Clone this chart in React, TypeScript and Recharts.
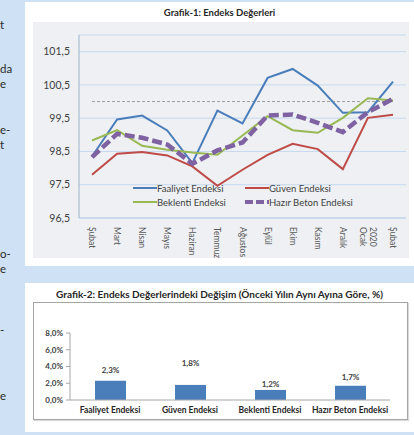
import { LineChart, Line, XAxis, YAxis, CartesianGrid, Legend, BarChart, Bar, LabelList } from 'recharts';

const FONT = 'Lato, "Noto Sans", sans-serif';

// Grafik-1 data
const months = ['Şubat', 'Mart', 'Nisan', 'Mayıs', 'Haziran', 'Temmuz', 'Ağustos', 'Eylül', 'Ekim', 'Kasım', 'Aralık', '2020 Ocak', 'Şubat'];
const faaliyet = [98.35, 99.46, 99.58, 99.13, 98.15, 99.73, 99.34, 100.71, 100.98, 100.48, 99.66, 99.68, 100.6];
const guven = [97.8, 98.43, 98.48, 98.38, 98.05, 97.47, 97.95, 98.4, 98.73, 98.57, 97.97, 99.51, 99.6];
const beklenti = [98.83, 99.14, 98.67, 98.55, 98.47, 98.4, 98.98, 99.56, 99.14, 99.06, 99.51, 100.1, 100.03];
const hazirBeton = [98.33, 99.03, 98.91, 98.71, 98.13, 98.53, 98.77, 99.58, 99.61, 99.36, 99.08, 99.68, 100.08];
const esik = [100, 100, 100, 100, 100, 100, 100, 100, 100, 100, 100, 100, 100];
const lineTicks = [96.5, 97.5, 98.5, 99.5, 100.5, 101.5];

// Grafik-2 data
const barCategories = ['Faaliyet Endeksi', 'Güven Endeksi', 'Beklenti Endeksi', 'Hazır Beton Endeksi'];
const barValues = [2.3, 1.8, 1.2, 1.7];
const barTicks = [0, 2, 4, 6, 8];

// left column text ends (cut off by the crop)
const sideText = [
  { t: 't', y: 25 },
  { t: 'da', y: 69 },
  { t: 'e', y: 84 },
  { t: 'e-', y: 130 },
  { t: 't', y: 145 },
  { t: 'o-', y: 254 },
  { t: 'e', y: 269 },
  { t: '-', y: 330 },
  { t: 'e', y: 396 },
];

const lineData = months.map((m, i) => ({
  month: m,
  esik: esik[i],
  faaliyet: faaliyet[i],
  guven: guven[i],
  beklenti: beklenti[i],
  hazirBeton: hazirBeton[i],
}));

const barData = barCategories.map((c, i) => ({ name: c, value: barValues[i] }));

const seriesStyle: Record<string, { label: string; color: string; width: number; dash?: string }> = {
  faaliyet: { label: 'Faaliyet Endeksi', color: '#4a7ebb', width: 2 },
  guven: { label: 'Güven Endeksi', color: '#be4b48', width: 2 },
  beklenti: { label: 'Beklenti Endeksi', color: '#98b954', width: 2 },
  hazirBeton: { label: 'Hazır Beton Endeksi', color: '#7e62a1', width: 4.5, dash: '10 4' },
};
const legendOrder = ['faaliyet', 'guven', 'beklenti', 'hazirBeton'];

const fmt1 = (v: number) => v.toFixed(1).replace('.', ',');
const fmtPct = (v: number) => fmt1(v) + '%';

const MonthTick = (props: any) => {
  const { x, y, payload } = props;
  const lines = String(payload.value).split(' ');
  const lh = 10;
  const start = -((lines.length - 1) * lh) / 2;
  return (
    <g transform={`translate(${x},${y + 7})`}>
      <text transform="rotate(90)" textAnchor="start" fontSize={8.5} fill="#595959" fontFamily={FONT}>
        {lines.map((l, i) => (
          <tspan key={i} x={0} y={start + i * lh} dy="0.35em">
            {l}
          </tspan>
        ))}
      </text>
    </g>
  );
};

const LegendBox = () => (
  <div style={{ display: 'grid', gridTemplateColumns: '112px 140px', rowGap: 2, fontFamily: FONT, fontSize: 9.5, color: '#404040' }}>
    {legendOrder.map((k) => {
      const s = seriesStyle[k];
      return (
        <div key={k} style={{ display: 'flex', alignItems: 'center', height: 12 }}>
          <svg width={24} height={8}>
            <line x1={0} y1={4} x2={24} y2={4} stroke={s.color} strokeWidth={s.width > 3 ? 4 : 2} strokeDasharray={s.dash ? '8 3' : undefined} />
          </svg>
          <span>{s.label}</span>
        </div>
      );
    })}
  </div>
);

const labelGap = [8, 19, 3, 6];

const BarValueLabel = (props: any) => {
  const vb = props.viewBox || {};
  const x = props.x ?? vb.x;
  const y = props.y ?? vb.y;
  const width = props.width ?? vb.width;
  const idx = props.index ?? barValues.indexOf(props.value);
  return (
    <text x={x + width / 2} y={y - (labelGap[idx] ?? 6)} textAnchor="middle" fontSize={8} fontWeight={700} fill="#404040" fontFamily={FONT}>
      {fmtPct(Number(props.value))}
    </text>
  );
};

export default function App() {
  return (
    <div style={{ position: 'absolute', left: 0, top: 0, width: 414, height: 435, overflow: 'hidden', background: '#cfe2f5', fontFamily: FONT }}>
      {sideText.map((s, i) => (
        <div key={i} style={{ position: 'absolute', left: 0, top: s.y - 7, height: 13, fontSize: 11.5, lineHeight: '13px', color: '#2a2a2a' }}>
          {s.t}
        </div>
      ))}

      {/* Grafik-1 panel */}
      <div style={{ position: 'absolute', left: 25, top: 2, width: 389, height: 264, background: '#ffffff' }} />
      <div style={{ position: 'absolute', left: 25, top: 7, width: 389, textAlign: 'center', fontSize: 9.5, fontWeight: 700, color: '#262626' }}>
        Grafik-1: Endeks Değerleri
      </div>
      <div style={{ position: 'absolute', left: 33, top: 22, width: 376, height: 236, background: '#eef0f3' }}>
        <LineChart width={376} height={236} data={lineData} margin={{ top: 13, right: 3, left: 0, bottom: 4 }}>
          <CartesianGrid horizontal vertical={false} stroke="#c6d9ef" />
          <XAxis
            dataKey="month"
            interval={0}
            padding={{ left: 13, right: 13 }}
            height={36}
            tickLine={false}
            tickSize={0}
            stroke="#b9cde5"
            tick={<MonthTick />}
          />
          <YAxis
            type="number"
            domain={[96.5, 102]}
            ticks={lineTicks}
            width={46}
            tickLine={false}
            tickSize={0}
            tickMargin={9}
            stroke="#9db3cf"
            tickFormatter={fmt1}
            tick={{ fontSize: 10.5, fill: '#404040', fontFamily: FONT }}
          />
          <Legend
            layout="horizontal"
            verticalAlign="middle"
            align="center"
            wrapperStyle={{ left: 100, top: 160, width: 260 }}
            content={<LegendBox />}
          />
          <Line dataKey="esik" stroke="#9c9c9c" strokeWidth={1} strokeDasharray="3 2" dot={false} legendType="none" isAnimationActive={false} />
          {legendOrder.map((k) => (
            <Line
              key={k}
              dataKey={k}
              name={seriesStyle[k].label}
              stroke={seriesStyle[k].color}
              strokeWidth={seriesStyle[k].width}
              strokeDasharray={seriesStyle[k].dash}
              dot={false}
              activeDot={false}
              isAnimationActive={false}
            />
          ))}
        </LineChart>
      </div>

      {/* Grafik-2 panel */}
      <div style={{ position: 'absolute', left: 25, top: 283, width: 389, height: 149, background: '#ffffff' }} />
      <div style={{ position: 'absolute', left: 25, top: 288, width: 389, textAlign: 'center', fontSize: 10, fontWeight: 700, color: '#262626' }}>
        Grafik-2: Endeks Değerlerindeki Değişim (Önceki Yılın Aynı Ayına Göre, %)
      </div>
      <div style={{ position: 'absolute', left: 33, top: 302, width: 373, height: 116, border: '1px solid #a5a5a5', boxShadow: '1px 1px 1px rgba(0,0,0,0.15)' }}>
        <BarChart width={373} height={116} data={barData} margin={{ top: 30, right: 17, left: 0, bottom: 3 }}>
          <XAxis
            dataKey="name"
            interval={0}
            height={16}
            tickLine={false}
            tickSize={0}
            tickMargin={7}
            stroke="#a6a6a6"
            tick={{ fontSize: 8.5, fontWeight: 700, fill: '#262626', fontFamily: FONT }}
          />
          <YAxis
            type="number"
            domain={[0, 8]}
            ticks={barTicks}
            width={36}
            tickSize={4}
            tickMargin={3}
            stroke="#a6a6a6"
            tickFormatter={fmtPct}
            tick={{ fontSize: 8, fontWeight: 700, fill: '#404040', fontFamily: FONT }}
          />
          <Bar dataKey="value" fill="#4a7ebb" barSize={31} isAnimationActive={false}>
            <LabelList dataKey="value" content={<BarValueLabel />} />
          </Bar>
        </BarChart>
      </div>
    </div>
  );
}
